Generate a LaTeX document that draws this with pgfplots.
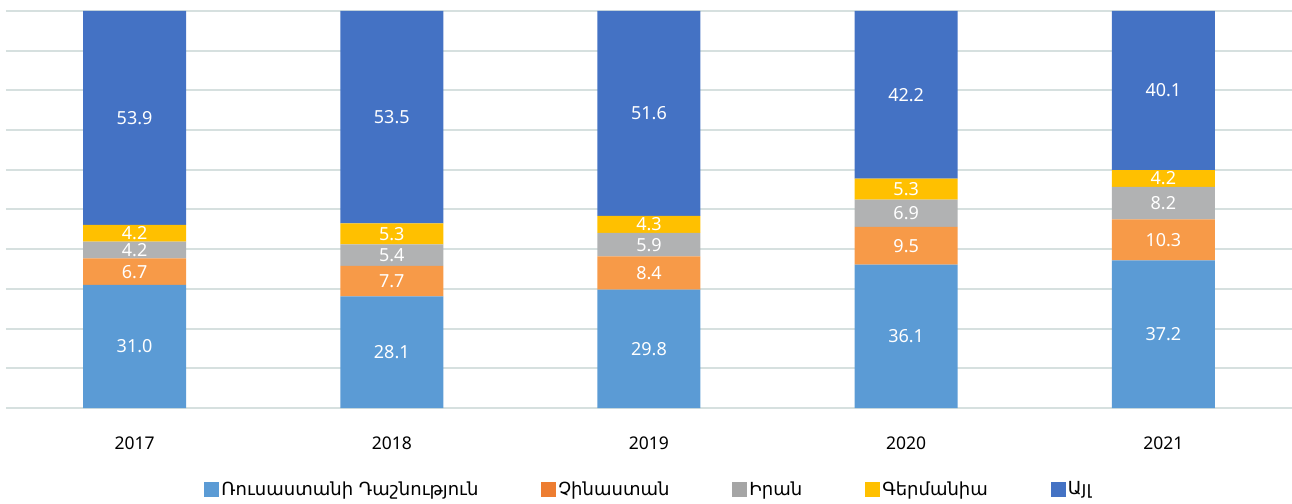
\documentclass[border=0pt]{standalone}
\usepackage{fontspec}
\usepackage{pgfplots}
\usepackage{pgfplotstable}
\pgfplotsset{compat=1.18}
\setmainfont{Noto Sans}
\newfontfamily\armfont{DejaVu Sans}
\definecolor{cA}{HTML}{5B9BD5}
\definecolor{cB}{HTML}{F79A48}
\definecolor{cBl}{HTML}{ED7D31}
\definecolor{cC}{HTML}{B1B2B3}
\definecolor{cCl}{HTML}{A5A5A5}
\definecolor{cD}{HTML}{FFC000}
\definecolor{cE}{HTML}{4472C4}
\definecolor{gridc}{HTML}{D6E0DF}
\pgfplotstableread{
x a b c d e
0 31.0 6.7 4.2 4.2 53.9
1 28.1 7.7 5.4 5.3 53.5
2 29.8 8.4 5.9 4.3 51.6
3 36.1 9.5 6.9 5.3 42.2
4 37.2 10.3 8.2 4.2 40.1
}\data
\begin{document}
\begin{tikzpicture}
\useasboundingbox (0,0) rectangle (1292pt,503pt);
\begin{axis}[
  at={(6pt,95pt)}, anchor=south west,
  scale only axis, width=1286pt, height=397pt,
  ybar stacked, bar width=103pt,
  xmin=-0.5, xmax=4.5, ymin=0, ymax=100,
  enlarge x limits=false, enlarge y limits=false,
  xtick=data, xticklabels={2017,2018,2019,2020,2021},
  xticklabel style={font=\fontsize{17.5}{20}\selectfont, anchor=center, yshift=-35pt},
  ytick={0,10,...,100}, yticklabels={},
  ymajorgrids, grid style={gridc, line width=2pt},
  axis line style={draw=none}, major tick length=0pt,
  point meta=explicit,
  /pgf/number format/assume math mode=true,
  nodes near coords={\pgfmathprintnumber[fixed,fixed zerofill,precision=1]{\pgfplotspointmeta}},
  every node near coord/.append style={anchor=center, text=white, font=\fontsize{18}{19}\selectfont},
  legend columns=-1,
  legend style={draw=none, at={(0.5,0)}, anchor=center, yshift=-81pt,
    font=\armfont\fontsize{18}{21}\selectfont,
    /tikz/every even column/.append style={column sep=61pt}},
]
\addplot+[fill=cA, draw=none, legend image code/.code={\fill[cA] (0pt,-7.5pt) rectangle (15pt,7.5pt);}] table[x=x,y=a,meta=a]{\data};
\addplot+[fill=cB, draw=none, legend image code/.code={\fill[cBl] (0pt,-7.5pt) rectangle (15pt,7.5pt);}] table[x=x,y=b,meta=b]{\data};
\addplot+[fill=cC, draw=none, legend image code/.code={\fill[cCl] (0pt,-7.5pt) rectangle (15pt,7.5pt);}] table[x=x,y=c,meta=c]{\data};
\addplot+[fill=cD, draw=none, legend image code/.code={\fill[cD] (0pt,-7.5pt) rectangle (15pt,7.5pt);}] table[x=x,y=d,meta=d]{\data};
\addplot+[fill=cE, draw=none, legend image code/.code={\fill[cE] (0pt,-7.5pt) rectangle (15pt,7.5pt);}] table[x=x,y=e,meta=e]{\data};
\legend{Ռուսաստանի Դաշնություն, Չինաստան, Իրան, Գերմանիա, Այլ}
\end{axis}
\end{tikzpicture}
\end{document}
